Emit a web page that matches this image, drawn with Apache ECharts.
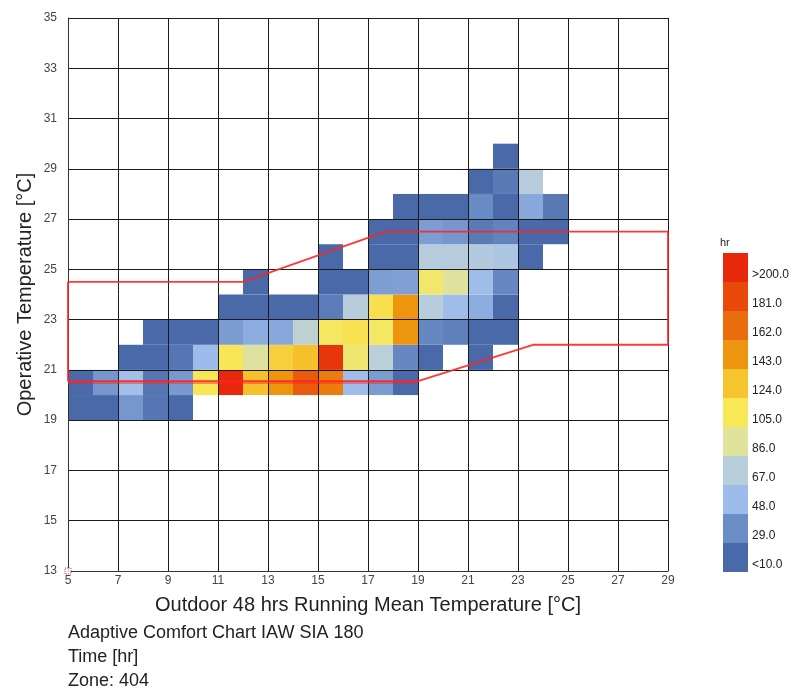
<!DOCTYPE html>
<html>
<head>
<meta charset="utf-8">
<title>Adaptive Comfort Chart IAW SIA 180</title>
<script src="https://cdn.jsdelivr.net/npm/echarts@6/dist/echarts.min.js"></script>
<style>
html, body { margin: 0; padding: 0; background: #fff; }
#chart { width: 800px; height: 698px; }
</style>
</head>
<body>
<div id="chart"></div>
<script>
// axis ticks
var xTicks = [5, 7, 9, 11, 13, 15, 17, 19, 21, 23, 25, 27, 29];
var yTicks = [13, 15, 17, 19, 21, 23, 25, 27, 29, 31, 33, 35];

// cells: lower left corner (running mean temp, operative temp) and hours
var cellX = [
	5, 6, 7, 8, 9,                                                  // 19
	5, 6, 7, 8, 9, 10, 11, 12, 13, 14, 15, 16, 17, 18,              // 20
	7, 8, 9, 10, 11, 12, 13, 14, 15, 16, 17, 18, 19, 21,            // 21
	8, 9, 10, 11, 12, 13, 14, 15, 16, 17, 18, 19, 20, 21, 22,       // 22
	11, 12, 13, 14, 15, 16, 17, 18, 19, 20, 21, 22,                 // 23
	12, 15, 16, 17, 18, 19, 20, 21, 22,                             // 24
	15, 17, 18, 19, 20, 21, 22, 23,                                 // 25
	17, 18, 19, 20, 21, 22, 23, 24,                                 // 26
	18, 19, 20, 21, 22, 23, 24,                                     // 27
	21, 22, 23,                                                     // 28
	22                                                              // 29
];
var cellY = [
	19, 19, 19, 19, 19,
	20, 20, 20, 20, 20, 20, 20, 20, 20, 20, 20, 20, 20, 20,
	21, 21, 21, 21, 21, 21, 21, 21, 21, 21, 21, 21, 21, 21,
	22, 22, 22, 22, 22, 22, 22, 22, 22, 22, 22, 22, 22, 22, 22,
	23, 23, 23, 23, 23, 23, 23, 23, 23, 23, 23, 23,
	24, 24, 24, 24, 24, 24, 24, 24, 24,
	25, 25, 25, 25, 25, 25, 25, 25,
	26, 26, 26, 26, 26, 26, 26, 26,
	27, 27, 27, 27, 27, 27, 27,
	28, 28, 28,
	29
];
var cellHours = [
	5, 6, 33, 17, 5,
	5, 33, 52, 17, 34, 106, 210, 125, 143, 172, 155, 50, 35, 7,
	5, 5, 17, 48, 106, 85, 118, 126, 192, 98, 68, 26, 5, 5,
	5, 5, 5, 35, 42, 40, 70, 103, 108, 102, 143, 26, 22, 7, 6,
	5, 5, 5, 5, 20, 66, 110, 143, 66, 50, 42, 7,
	5, 6, 8, 36, 37, 100, 85, 50, 26,
	5, 5, 5, 65, 65, 63, 58, 6,
	5, 6, 36, 33, 19, 24, 8, 8,
	5, 6, 5, 28, 5, 40, 19,
	5, 19, 65,
	5
];

// comfort band (SIA 180)
var bandX = [5, 5, 12, 17.7, 29, 29, 23.6, 19, 5];
var bandY = [20.55, 24.5, 24.5, 26.5, 26.5, 22, 22, 20.55, 20.55];
var bandLowX = [5, 19];
var bandLowY = [20.48, 20.48];

// colour scale
var legendLabels = ['<10.0', '29.0', '48.0', '67.0', '86.0', '105.0', '124.0', '143.0', '162.0', '181.0', '>200.0'];
var legendBreaks = [10, 29, 48, 67, 86, 105, 124, 143, 162, 181, 200];
var legendColors = ['#4a69a9', '#6b8dc5', '#9dbbeb', '#b9cedb', '#dfe39b', '#f8e858',
	'#f5c52f', '#ee9510', '#e96d0c', '#e94a0c', '#e8280a'];

var font = '"Liberation Sans", Arial, sans-serif';

function renderCell(params, api) {
	var x = api.value(0);
	var y = api.value(1);
	var p0 = api.coord([x, y + 1]);
	var p1 = api.coord([x + 1, y]);
	return {
		type: 'rect',
		shape: { x: p0[0], y: p0[1], width: p1[0] - p0[0], height: p1[1] - p0[1] },
		style: { fill: api.visual('color') }
	};
}

var cells = [];
for (var i = 0; i < cellX.length; i++) {
	cells.push([cellX[i], cellY[i], cellHours[i]]);
}
var band = bandX.map(function (x, i) { return [x, bandY[i]]; });
var bandLow = bandLowX.map(function (x, i) { return [x, bandLowY[i]]; });

// labels sit in the lower half of each colour block
var pieces = legendLabels.map(function (label, i) {
	var p = { label: '\n' + label, color: legendColors[i] };
	if (i === 0) p.lt = legendBreaks[0];
	else if (i === legendLabels.length - 1) p.gte = legendBreaks[i - 1];
	else { p.gte = legendBreaks[i - 1]; p.lt = legendBreaks[i]; }
	return p;
});

var myChart = echarts.init(document.getElementById('chart'));

var option = {
	animation: false,
	textStyle: { fontFamily: font },
	title: [{
		text: 'Adaptive Comfort Chart IAW SIA 180\nTime [hr]\nZone: 404',
		left: 63,
		top: 616,
		textStyle: { fontFamily: font, fontSize: 18, fontWeight: 'normal', color: '#222', lineHeight: 24 }
	}, {
		text: 'hr',
		left: 715,
		top: 232,
		textStyle: { fontFamily: font, fontSize: 11, fontWeight: 'normal', color: '#222' }
	}],
	grid: { left: 68, right: 132, top: 18, bottom: 127 },
	xAxis: {
		type: 'value',
		min: 5,
		max: 29,
		z: 3,
		name: 'Outdoor 48 hrs Running Mean Temperature [°C]',
		nameLocation: 'middle',
		nameGap: 24,
		nameTextStyle: { fontFamily: font, fontSize: 20, color: '#222' },
		axisLine: { show: true, lineStyle: { color: '#333', width: 1 } },
		axisTick: { show: false, customValues: xTicks },
		axisLabel: { customValues: xTicks, margin: 4, fontSize: 12, color: '#444', fontFamily: font },
		splitLine: { show: true, lineStyle: { color: '#1a1a1a', width: 1 } }
	},
	yAxis: {
		type: 'value',
		min: 13,
		max: 35,
		z: 3,
		name: 'Operative Temperature [°C]',
		nameLocation: 'middle',
		nameGap: 33,
		nameMoveOverlap: false,
		nameTextStyle: { fontFamily: font, fontSize: 20, color: '#222' },
		axisLine: { show: true, lineStyle: { color: '#333', width: 1 } },
		axisTick: { show: false, customValues: yTicks },
		axisLabel: { customValues: yTicks, margin: 11, fontSize: 12, color: '#444', fontFamily: font },
		splitLine: { show: true, lineStyle: { color: '#1a1a1a', width: 1 } }
	},
	visualMap: [{
		type: 'continuous',
		show: false,
		seriesIndex: 0,
		dimension: 2,
		min: legendBreaks[0],
		max: legendBreaks[legendBreaks.length - 1],
		inRange: { color: legendColors }
	}, {
		type: 'piecewise',
		seriesIndex: 4,
		dimension: 1,
		pieces: pieces,
		orient: 'vertical',
		left: 708,
		top: 238,
		itemWidth: 25,
		itemHeight: 29,
		itemGap: 0,
		itemSymbol: 'rect',
		align: 'left',
		textGap: 4,
		selectedMode: false,
		textStyle: { fontFamily: font, fontSize: 12, color: '#222', lineHeight: 14 }
	}],
	series: [{
		type: 'custom',
		renderItem: renderCell,
		encode: { x: 0, y: 1 },
		data: cells,
		z: 2
	}, {
		type: 'line',
		data: band,
		symbol: 'none',
		z: 5,
		lineStyle: { color: '#ff2222', width: 1.8, opacity: 0.9 }
	}, {
		type: 'line',
		data: bandLow,
		symbol: 'none',
		z: 5,
		lineStyle: { color: '#ff2222', width: 1.2, opacity: 0.9 }
	}, {
		type: 'scatter',
		data: [[5, 13]],
		symbol: 'rect',
		symbolSize: 6,
		z: 6,
		itemStyle: { color: '#fff', borderColor: '#e02020', borderWidth: 1, borderType: 'dotted' }
	}, {
		type: 'scatter',
		data: []
	}]
};

myChart.setOption(option);
</script>
</body>
</html>
